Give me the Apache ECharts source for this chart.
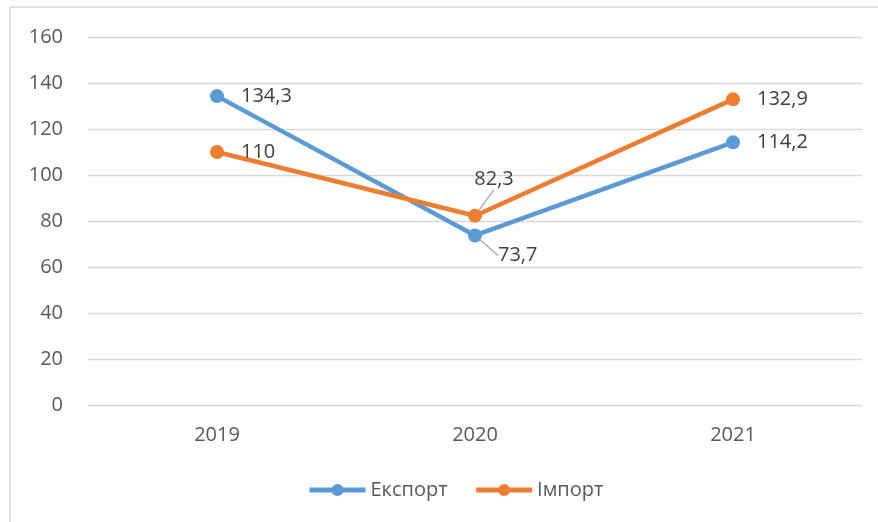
<!DOCTYPE html>
<html>
<head>
<meta charset="utf-8">
<script src="https://cdn.jsdelivr.net/npm/echarts@6/dist/echarts.min.js"></script>
<style>
  html, body { margin: 0; padding: 0; background: #fff; }
  #chart { width: 878px; height: 522px; }
</style>
</head>
<body>
<div id="chart"></div>
<script>
const years = ['2019', '2020', '2021'];
const exportValues = [134.3, 73.7, 114.2];
const importValues = [110, 82.3, 132.9];

const fmt = p => String(p.value).replace('.', ',');
const font = 'Open Sans, sans-serif';

const chart = echarts.init(document.getElementById('chart'), null, { renderer: 'canvas' });

// labels that Excel pulled away from the 2020 points, with a leader line
const exportMoved = { 1: { label: { position: 'right', distance: 16 }, shift: { dx: 0, dy: 20 } } };
const importMoved = { 1: { label: { position: 'top', distance: 19 }, shift: { dx: 19, dy: 0 } } };

function makeSeries(name, values, color, moved) {
  const data = values.map((v, i) => {
    const m = moved[i];
    if (!m) return { value: v };
    return { value: v, label: m.label, labelLine: { show: true } };
  });
  return {
    name: name,
    type: 'line',
    data: data,
    symbol: 'circle',
    symbolSize: 14,
    lineStyle: { width: 4.5, color: color },
    itemStyle: { color: color },
    label: {
      show: true,
      position: 'right',
      distance: 17,
      formatter: fmt,
      color: '#404040',
      fontSize: 20,
      fontFamily: font
    },
    labelLine: { show: false, lineStyle: { color: '#a6a6a6', width: 1.3 } },
    labelLayout: p => (moved[p.dataIndex] ? moved[p.dataIndex].shift : {}),
    z: name === 'Імпорт' ? 3 : 2
  };
}

chart.setOption({
  backgroundColor: '#ffffff',
  animation: false,
  graphic: [{
    type: 'rect',
    shape: { x: 10, y: 7, width: 880, height: 530 },
    style: { fill: 'none', stroke: '#d9d9d9', lineWidth: 1.5 },
    silent: true
  }],
  grid: { left: 88, right: 16, top: 37, bottom: 117 },
  legend: {
    bottom: 17,
    left: 302,
    itemWidth: 56,
    itemHeight: 15,
    itemGap: 26,
    lineStyle: { width: 5 },
    textStyle: { color: '#595959', fontSize: 20, fontFamily: font },
    data: ['Експорт', 'Імпорт']
  },
  xAxis: {
    type: 'category',
    data: years,
    boundaryGap: true,
    axisLine: { show: false },
    axisTick: { show: false },
    axisLabel: { color: '#595959', fontSize: 20, margin: 20, fontFamily: font }
  },
  yAxis: {
    type: 'value',
    min: 0,
    max: 160,
    interval: 20,
    axisLine: { show: false },
    axisTick: { show: false },
    axisLabel: { color: '#595959', fontSize: 20, margin: 25, fontFamily: font },
    splitLine: { lineStyle: { color: '#d9d9d9', width: 1.3 } }
  },
  series: [
    makeSeries('Експорт', exportValues, '#5b9bd5', exportMoved),
    makeSeries('Імпорт', importValues, '#ed7d31', importMoved)
  ]
});
</script>
</body>
</html>
